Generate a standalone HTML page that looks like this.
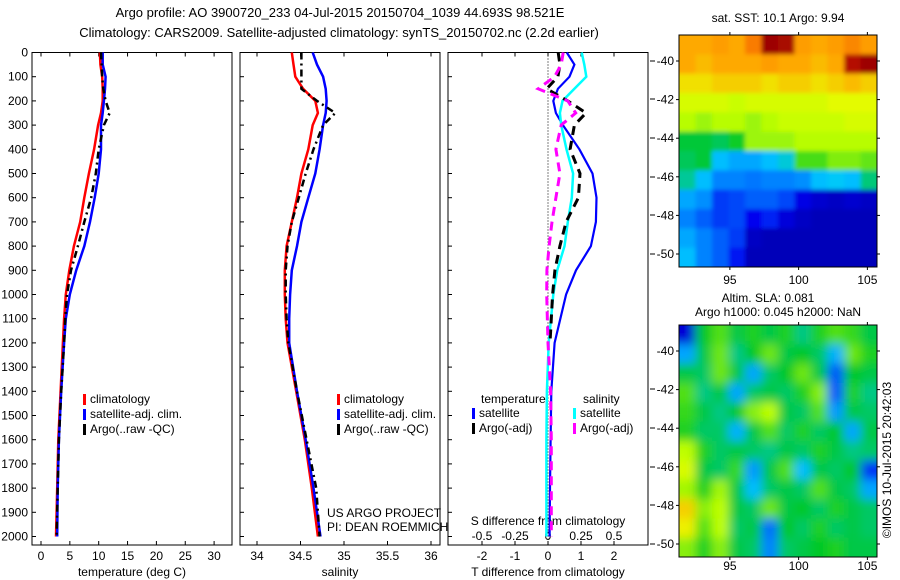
<!DOCTYPE html>
<html><head><meta charset="utf-8"><style>
body{margin:0;background:#fff;}
svg{display:block;font-family:"Liberation Sans",Arial,sans-serif;}
text{font-size:12px;fill:#000;}
</style></head><body>
<svg id="chart" width="900" height="580" viewBox="0 0 900 580" xmlns="http://www.w3.org/2000/svg">
<defs>
<filter id="blur" x="0" y="0" width="1" height="1"><feGaussianBlur stdDeviation="5"/></filter>
<filter id="blur2" x="0" y="0" width="1" height="1"><feGaussianBlur stdDeviation="2"/></filter>
<clipPath id="clipSst"><rect x="679" y="35" width="198" height="232"/></clipPath>
<clipPath id="clipSla"><rect x="679" y="325" width="198" height="232"/></clipPath>
</defs>
<text x="340" y="17" text-anchor="middle" style="font-size:13px">Argo profile: AO 3900720_233 04-Jul-2015 20150704_1039 44.693S 98.521E</text>
<text x="339" y="37" text-anchor="middle" style="font-size:13px">Climatology: CARS2009. Satellite-adjusted climatology: synTS_20150702.nc (2.2d earlier)</text>
<g id="g"></g>
</svg>
<script>
const depths=[0,50,100,150,200,250,300,400,500,600,700,800,900,1000,1100,1200,1400,1600,1800,2000];
const tempClim=[10.2,10.3,10.6,10.7,10.7,10.4,9.9,9.2,8.3,7.5,6.8,5.7,4.9,4.3,4.0,3.8,3.4,3.0,2.8,2.6];
const tempSat=[10.7,10.7,11.2,11.1,10.9,10.7,10.4,10.4,10.0,9.3,8.5,7.5,6.1,5.0,4.3,4.0,3.5,3.1,2.9,2.8];
const tempArgo=[10.4,10.5,10.6,10.8,11.2,11.9,10.9,10.0,9.5,8.7,7.5,6.4,5.2,4.5,4.2,4.0,3.5,3.1,2.9,2.7];
const salClim=[34.40,34.42,34.44,34.53,34.67,34.70,34.64,34.59,34.51,34.46,34.40,34.34,34.32,34.32,34.33,34.35,34.45,34.55,34.63,34.70];
const salSat=[34.64,34.69,34.76,34.79,34.80,34.79,34.76,34.72,34.67,34.59,34.51,34.46,34.40,34.38,34.37,34.37,34.46,34.56,34.65,34.73];
const salArgo=[34.51,34.51,34.51,34.51,34.69,34.90,34.76,34.65,34.56,34.48,34.40,34.35,34.33,34.33,34.34,34.36,34.46,34.57,34.68,34.72];
const diffDepths=[0,50,100,150,200,250,300,400,500,600,700,800,900,1000,1200,1400,1600,1800,2000];
const tDiffSat=[0.57,0.8,0.65,0.3,0.16,0.24,0.45,0.95,1.35,1.47,1.45,1.3,0.85,0.55,0.2,0.1,0.08,0.06,0.05];
const sDiffSat=[0.255,0.275,0.29,0.2,0.11,0.09,0.1,0.14,0.19,0.18,0.15,0.125,0.07,0.04,0.005,-0.008,-0.012,-0.012,-0.012];
const tDiffArgo=[0.31,0.36,0.3,-0.04,0.6,1.15,0.8,0.67,0.97,0.92,0.55,0.36,0.21,0.14,0.06];
const sDiffArgo=[0.115,0.1,0.05,-0.075,0.15,0.21,0.1,0.06,0.09,0.06,0.03,0.008,-0.008,-0.01,0,0.02,0.025,0.025,0.025];
const depthTicks=[0,100,200,300,400,500,600,700,800,900,1000,1100,1200,1300,1400,1500,1600,1700,1800,1900,2000];
const tempTicks=[0,5,10,15,20,25,30];
const salTicks=["34","34.5","35","35.5","36"];
const tDiffTicks=[-2,-1,0,1,2];
const sDiffTicks=["-0.5","-0.25","0","0.25","0.5"];
const latTicks=[-40,-42,-44,-46,-48,-50];
const lonTicks=[95,100,105];
// SST grid (deg C), rows north->south, cols west->east
const sstRows=[
[11.8,11.8,11.9,11.8,12.2,13.4,13.3,11.9,11.8,11.9,12.1,11.9],
[11.8,11.7,11.8,11.8,11.8,11.9,11.8,11.8,11.7,11.8,13.2,13.4],
[11.5,11.5,11.6,11.6,11.6,11.5,11.6,11.6,11.5,11.6,11.7,11.6],
[11.2,11.2,11.2,11.1,11.2,11.2,11.2,11.2,11.2,11.3,11.3,11.3],
[11.0,10.9,11.0,11.0,10.9,11.0,11.1,11.1,11.1,11.1,11.2,11.2],
[10.3,10.3,10.2,10.4,10.9,10.9,10.9,11.0,11.0,11.0,11.0,11.0],
[10.2,10.3,9.6,9.4,9.4,9.6,9.8,10.6,10.6,10.8,10.8,10.7],
[10.0,9.6,9.1,9.1,9.0,9.1,9.1,9.2,9.6,9.7,9.6,10.1],
[9.4,9.2,8.5,8.6,8.8,8.8,8.6,7.9,7.7,7.6,7.7,7.6],
[9.1,8.8,8.5,8.6,8.0,8.3,7.8,7.6,7.5,7.5,7.5,7.5],
[9.4,9.1,8.8,8.5,7.6,7.5,7.5,7.5,7.5,7.5,7.5,7.5],
[9.6,9.1,8.8,8.2,7.5,7.5,7.5,7.5,7.5,7.5,7.5,7.5]];
// SLA grid (m)
const slaRows=[
[-0.22,0.05,0.08,0.04,0.06,0.04,0.06,0.02,0.06,0.08,0.07,0.04],
[-0.05,0.04,0.09,0.02,0.05,0.09,0.04,0.05,0.03,-0.04,0.09,0.06],
[0.04,0.03,0.09,0.04,-0.05,0.03,0.05,0.09,0.04,-0.12,0.05,0.04],
[0.08,0.02,0.04,-0.05,0.03,0.04,0.03,0.06,0.10,-0.12,0.06,0.02],
[0.07,0.04,0.02,0.05,0.10,0.12,0.04,0.03,0.08,-0.06,0.04,0.03],
[0.06,0.03,0.03,-0.04,0.04,0.08,0.03,0.06,0.03,0.05,-0.05,0.04],
[0.12,0.06,0.03,0.04,0.03,0.02,0.04,0.03,0.06,0.04,0.02,0.03],
[0.14,0.04,0.03,0.07,-0.06,0.04,0.08,-0.03,0.04,0.03,0.05,-0.15],
[0.11,0.06,0.11,0.04,-0.03,0.03,0.04,0.03,0.08,0.04,0.03,-0.05],
[0.18,0.10,0.12,0.04,0.03,0.09,0.04,0.05,0.03,0.06,0.04,0.03],
[0.16,0.08,0.12,0.03,0.04,-0.10,0.05,0.03,0.06,0.03,0.04,0.03],
[0.10,0.06,0.10,0.04,0.03,-0.08,0.03,0.04,0.05,0.06,0.04,0.04]];

const NS="http://www.w3.org/2000/svg";
const G=document.getElementById('g');
function el(tag,attrs,parent){const e=document.createElementNS(NS,tag);for(const k in attrs)e.setAttribute(k,attrs[k]);(parent||G).appendChild(e);return e;}
const Y0=52.5,YS=0.242,YB=545;
const yD=d=>Y0+d*YS;
const xT=v=>41+v*5.77;
const xS=v=>257+(v-34)*87;
const xDT=v=>548+v*33;
const xDS=v=>548+v*132;

function panel(x0,name){
  const r=el('rect',{x:x0,y:Y0,width:200,height:YB-Y0,fill:'none',stroke:'#000','stroke-width':1});
  
  
  depthTicks.forEach(d=>{const t=el('line',{x1:x0,x2:x0+4,y1:yD(d),y2:yD(d),stroke:'#000'});
    
    });
}
panel(32,'temperature-panel');panel(240,'salinity-panel');panel(448,'difference-panel');
depthTicks.forEach(d=>{const t=el('text',{x:28,y:yD(d)+4,'text-anchor':'end'});t.textContent=d;
  
  });
[61,99,138,177,215,254,389,428,467,505,544].forEach(y=>{const t=el('line',{x1:650,x2:655,y1:y,y2:y,stroke:'#000'});
  
  });

function xticks(vals,fx,labels,ly){vals.forEach((v,i)=>{const x=fx(v);
  el('line',{x1:x,x2:x,y1:Y0,y2:Y0+4,stroke:'#000'});el('line',{x1:x,x2:x,y1:YB,y2:YB-4,stroke:'#000'});
  const t=el('text',{x:x,y:ly,'text-anchor':'middle'});t.textContent=labels[i];
  
  });}
xticks(tempTicks,xT,tempTicks,560);
xticks(salTicks.map(Number),xS,salTicks,560);
xticks(tDiffTicks,xDT,tDiffTicks,560);
sDiffTicks.forEach(s=>{const t=el('text',{x:xDS(Number(s)),y:540,'text-anchor':'middle'});t.textContent=s;
  
  });
function label(x,y,s,name,anchor){const t=el('text',{x:x,y:y,'text-anchor':anchor||'middle'});t.textContent=s;
  return t;}
label(132,576,'temperature (deg C)','x-axis-title-temperature');
label(340,576,'salinity','x-axis-title-salinity');
label(548,576,'T difference from climatology','x-axis-title-t-diff');
label(548,525,'S difference from climatology','x-axis-title-s-diff');
label(327,517,'US ARGO PROJECT','credit-project','start');
label(327,531,'PI: DEAN ROEMMICH','credit-pi','start');

el('line',{x1:xDT(0),x2:xDT(0),y1:Y0,y2:YB,stroke:'#000','stroke-dasharray':'1,2'});

function line(xs,ds,fx,color,w,dash,name){
  const pts=xs.map((v,i)=>fx(v).toFixed(1)+','+yD(ds[i]).toFixed(1)).join(' ');
  const a={points:pts,fill:'none',stroke:color,'stroke-width':w};if(dash)a['stroke-dasharray']=dash;
  const p=el('polyline',a);
  
  
}
line(tempClim,depths,xT,'#f00',2.5,null,'temp-climatology-line');
line(tempSat,depths,xT,'#00f',2.5,null,'temp-satellite-line');
line(tempArgo,depths,xT,'#000',2.5,'7,4,2,4','temp-argo-line');
line(salClim,depths,xS,'#f00',2.5,null,'sal-climatology-line');
line(salSat,depths,xS,'#00f',2.5,null,'sal-satellite-line');
line(salArgo,depths,xS,'#000',2.5,'7,4,2,4','sal-argo-line');
line(tDiffSat,diffDepths,xDT,'#00f',2.2,null,'t-diff-satellite-line');
line(sDiffSat,diffDepths,xDS,'#0ff',2.5,null,'s-diff-satellite-line');
line(tDiffArgo,diffDepths.slice(0,tDiffArgo.length),xDT,'#000',3,'9,6','t-diff-argo-line');
line(sDiffArgo,diffDepths,xDS,'#f0f',3,'9,6','s-diff-argo-line');

function legend(x,y,items,name){items.forEach((it,i)=>{
  const r=el('rect',{x:x,y:y+i*15-9,width:3,height:11,fill:it[1]});
  
  
  const t=el('text',{x:x+7,y:y+i*15});t.textContent=it[0];
  
  });}
legend(83,403,[['climatology','#f00'],['satellite-adj. clim.','#00f'],['Argo(..raw -QC)','#000']],'temp-legend');
legend(337,403,[['climatology','#f00'],['satellite-adj. clim.','#00f'],['Argo(..raw -QC)','#000']],'sal-legend');
label(481,403,'temperature','legend-heading-temperature','start');
label(583,403,'salinity','legend-heading-salinity','start');
legend(472,417,[['satellite','#00f'],['Argo(-adj)','#000']],'tdiff-legend');
legend(573,417,[['satellite','#0ff'],['Argo(-adj)','#f0f']],'sdiff-legend');

const cmapStops=[[0,[0,0,130]],[0.15,[0,0,240]],[0.3,[0,120,255]],[0.4,[0,200,255]],[0.5,[0,200,40]],[0.6,[190,255,0]],[0.65,[235,250,0]],[0.72,[255,165,0]],[0.85,[240,70,0]],[0.95,[160,0,0]],[1,[130,0,0]]];
function cmap(f){f=Math.max(0,Math.min(1,f));
  for(let i=1;i<cmapStops.length;i++){const a=cmapStops[i-1],b=cmapStops[i];
    if(f<=b[0]){const t=(f-a[0])/(b[0]-a[0]);
      return 'rgb('+a[1].map((c,k)=>Math.round(c+(b[1][k]-c)*t)).join(',')+')';}}
  return 'rgb(130,0,0)';}
const LON0=91.3,LON1=105.7;
function map(top,bot,lat40y,lat50y,rows,vmin,vmax,name,xlabY,clip,filt){
  const L=679,R=877;
  const outer=el('g',{'clip-path':'url(#'+clip+')'});
  const grp=el('g',{filter:'url(#'+filt+')'},outer);
  const nr=rows.length,nc=rows[0].length,cw=(R-L)/nc,ch=(bot-top)/nr;
  el('rect',{x:L-20,y:top-20,width:R-L+40,height:bot-top+40,fill:cmap((rows[0][0]-vmin)/(vmax-vmin))},grp);
  rows.forEach((row,i)=>row.forEach((v,j)=>{
    const ex=(j==0?-10:0),ey=(i==0?-10:0),ew=(j==nc-1?10:0)-ex,eh=(i==nr-1?10:0)-ey;
    const c=el('rect',{x:L+j*cw+ex,y:top+i*ch+ey,width:cw+0.6+ew,height:ch+0.6+eh,fill:cmap((v-vmin)/(vmax-vmin))},grp);
    
    }));
  el('rect',{x:L,y:top,width:R-L,height:bot-top,fill:'none',stroke:'#000'});
  const yl=lat=>lat40y+(lat+40)/(-10)*(lat50y-lat40y);
  latTicks.forEach(lat=>{const y=yl(lat);
    el('line',{x1:L,x2:L-3,y1:y,y2:y,stroke:'#000'});el('line',{x1:R,x2:R+3,y1:y,y2:y,stroke:'#000'});
    const t=el('text',{x:674,y:y+4,'text-anchor':'end'});t.textContent=lat;
    });
  const xl=lon=>L+(lon-LON0)/(LON1-LON0)*(R-L);
  lonTicks.forEach(lon=>{const x=xl(lon);
    el('line',{x1:x,x2:x,y1:top,y2:top-3,stroke:'#000'});el('line',{x1:x,x2:x,y1:bot,y2:bot+3,stroke:'#000'});
    const t=el('text',{x:x,y:xlabY,'text-anchor':'middle'});t.textContent=lon;
    });
}
map(35,267,61,254,sstRows,7,13.7,'sst-map',284,'clipSst','blur2');
map(325,557,351,544,slaRows,-0.3,0.4,'sla-map',570,'clipSla','blur');
label(778,22,'sat. SST: 10.1  Argo: 9.94','sst-map-title');
label(768,302,'Altim. SLA: 0.081','sla-map-title');
label(778,316,'Argo h1000: 0.045 h2000: NaN','sla-map-subtitle');
const cr=label(0,0,'©IMOS 10-Jul-2015 20:42:03','imos-credit');
cr.setAttribute('transform','translate(891,460) rotate(-90)');
</script>
</body></html>
